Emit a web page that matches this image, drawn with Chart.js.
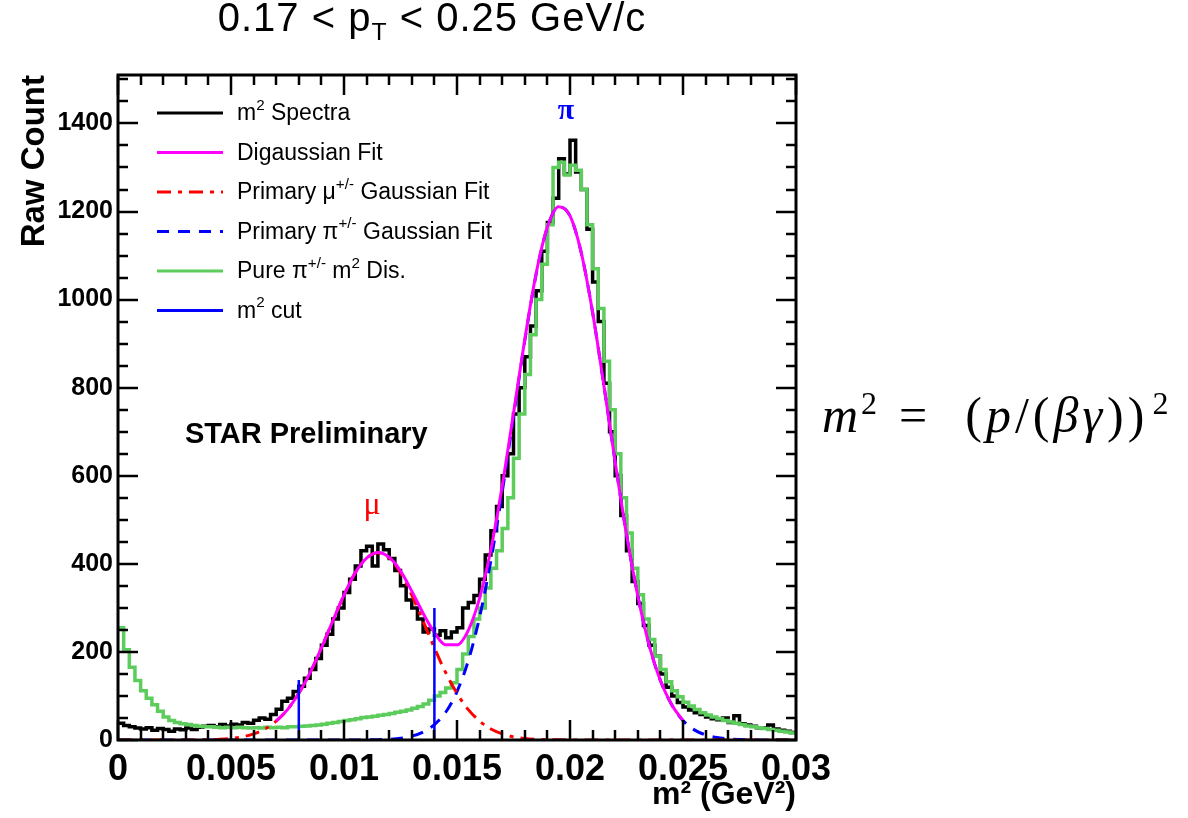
<!DOCTYPE html>
<html>
<head>
<meta charset="utf-8">
<script src="https://cdn.jsdelivr.net/npm/chart.js@4/dist/chart.umd.min.js"></script>
<style>
html,body{margin:0;padding:0;background:#fff;}
#wrap{position:relative;width:1188px;height:818px;}
canvas{display:block;}
</style>
</head>
<body>
<div id="wrap"><canvas id="c" width="1188" height="818"></canvas></div>
<script>
// ---------------- data ----------------
const binWidth = 0.00025; // GeV^2 per histogram bin (0 .. 0.03)

// black: m^2 spectra (raw count per bin)
const spectraCounts = [
  38, 33, 30, 27,   25, 28, 22, 26,   24, 20, 25, 23,   27, 24, 29, 31,
  33, 30, 35, 32,   36, 34, 40, 38,   45, 50, 47, 58,   70, 88, 95, 110,
  122, 140, 160, 185,   215, 240, 275, 300,   335, 365, 395, 430,   440, 395, 445, 432,
  412, 385, 350, 318,   300, 275, 245, 252,   238, 248, 232, 245,   255, 300, 312, 328,
  365, 420, 475, 530,   600, 650, 740, 800,   870, 940, 1020, 1110,   1175, 1230, 1320, 1285,
  1362, 1290, 1250, 1160,   1040, 950, 810, 700,   600, 510, 430, 360,   310, 260, 215, 190,
  150, 120, 100, 85,   75, 68, 62, 58,   52, 48, 46, 50,   40, 55, 37, 34,
  31, 28, 27, 34,   25, 22, 20, 17
];

// green: pure pi+/- m^2 distribution
const purePionCounts = [
  255, 205, 165, 135,   112, 95, 80, 65,   52, 44, 40, 37,   35, 33, 31, 30,
  30, 29, 28, 29,   28, 29, 28, 27,   28, 27, 29, 28,   29, 28, 30, 30,
  31, 32, 33, 34,   36, 38, 40, 42,   44, 46, 48, 51,   52, 54, 56, 58,
  60, 63, 65, 68,   72, 76, 82, 90,   100, 108, 118, 130,   160, 195, 235, 275,
  300, 345, 390, 430,   480, 550, 640, 740,   830, 920, 1000, 1080,   1170, 1300, 1312, 1283,
  1305, 1294, 1250, 1170,   1070, 980, 860, 750,   650, 550, 470, 390,   330, 275, 228, 190,
  160, 132, 112, 98,   86, 77, 69, 62,   57, 52, 48, 44,   41, 38, 35, 32,
  30, 28, 26, 24,   22, 20, 18, 16
];

// fit curves sampled every 0.0005 GeV^2 from 0 to 0.03
const fitStep = 0.0005;
const muonFit = [
  0, 0, 0, 0, 0, 0, 0.1, 0.3, 0.7, 1.6,
  3.5, 7, 14, 25, 43, 69, 106, 153, 209, 270,
  329, 380, 413, 425, 413, 380, 329, 270, 209, 153,
  106, 69, 43, 25, 14, 7, 3.5, 1.6, 0.7, 0.3,
  0.1, 0, 0, 0, 0, 0, 0, 0, 0, 0,
  0, 0, 0, 0, 0, 0, 0, 0, 0, 0, 0
];
const pionFit = [
  0, 0, 0, 0, 0, 0, 0, 0, 0, 0,
  0, 0, 0, 0, 0, 0, 0, 0, 0, 0,
  0, 0.1, 0.3, 0.7, 1.7, 4, 8.7, 18, 35, 63,
  110, 180, 279, 408, 563, 735, 907, 1057, 1164, 1211,
  1190, 1106, 971, 805, 631, 467, 327, 216, 135, 80,
  44, 23, 11.7, 5.5, 2.4, 1, 0.4, 0.1, 0, 0, 0
];
// digaussian fit drawn from 0.007 to 0.025
const digaussStart = 0.007;
const digaussFit = [
  43, 69, 106, 153, 209, 270, 329, 380, 413, 426,
  415, 384, 338, 288, 244, 216, 216, 249, 322, 433,
  577, 742, 910, 1059, 1165, 1211, 1190, 1106, 971, 805,
  631, 467, 327, 216, 135, 80, 44
];

// m^2 cut positions and the height the cut markers are drawn to
const cutPositions = [0.008, 0.014];
const cutHeights = [136, 300];

const xTickLabels = ['0', '0.005', '0.01', '0.015', '0.02', '0.025', '0.03'];
const yTickLabels = ['0', '200', '400', '600', '800', '1000', '1200', '1400'];

const legendLabels = [
  'm^{2} Spectra',
  'Digaussian Fit',
  'Primary \u03bc^{+/-} Gaussian Fit',
  'Primary \u03c0^{+/-} Gaussian Fit',
  'Pure \u03c0^{+/-} m^{2} Dis.',
  'm^{2} cut'
];

// ---------------- build ----------------
function histPoints(counts) {
  const pts = counts.map((v, i) => ({ x: i * binWidth, y: v }));
  pts.push({ x: counts.length * binWidth, y: counts[counts.length - 1] });
  return pts;
}
function fitPoints(vals, start) {
  return vals.map((v, i) => ({ x: start + i * fitStep, y: v }));
}
function cutPoints() {
  const pts = [];
  cutPositions.forEach((c, i) => {
    if (i > 0) pts.push({ x: (cutPositions[i - 1] + c) / 2, y: null });
    pts.push({ x: c, y: 0 });
    pts.push({ x: c, y: cutHeights[i] });
  });
  return pts;
}

const SANS = "'Liberation Sans', Arial, Helvetica, sans-serif";
const SERIF = "'Liberation Serif', 'Times New Roman', serif";

const datasets = [
  { label: legendLabels[0], data: histPoints(spectraCounts), borderColor: '#000000', borderWidth: 3.5, stepped: 'before', order: 6, legendOrder: 0 },
  { label: legendLabels[1], data: fitPoints(digaussFit, digaussStart), borderColor: '#ff00ff', borderWidth: 3, cubicInterpolationMode: 'monotone', order: 2, legendOrder: 1 },
  { label: legendLabels[2], data: fitPoints(muonFit, 0), borderColor: '#ff0000', borderWidth: 3, borderDash: [14, 7, 4, 7], cubicInterpolationMode: 'monotone', order: 3, legendOrder: 2 },
  { label: legendLabels[3], data: fitPoints(pionFit, 0), borderColor: '#0000ff', borderWidth: 3, borderDash: [12, 9], cubicInterpolationMode: 'monotone', order: 4, legendOrder: 3 },
  { label: legendLabels[4], data: histPoints(purePionCounts), borderColor: '#5ccc5c', borderWidth: 3.5, stepped: 'before', order: 5, legendOrder: 4 },
  { label: legendLabels[5], data: cutPoints(), borderColor: '#0000ff', borderWidth: 2.5, order: 1, legendOrder: 5 }
];
datasets.forEach(d => { d.pointRadius = 0; d.fill = false; d.spanGaps = false; });

// draw text with ^{...} superscripts and _{...} subscripts
function drawRich(ctx, str, x, y, size, family, weight, supScale) {
  const re = /(\^\{[^}]*\}|_\{[^}]*\})/;
  const parts = str.split(re).filter(p => p.length);
  const sc = supScale || 0.62;
  let cx = x;
  parts.forEach(p => {
    let txt = p, fs = size, dy = 0;
    if (p.startsWith('^{')) { txt = p.slice(2, -1); fs = size * sc; dy = -size * 0.36; }
    else if (p.startsWith('_{')) { txt = p.slice(2, -1); fs = size * sc; dy = size * 0.22; }
    ctx.font = (weight ? weight + ' ' : '') + fs + 'px ' + family;
    ctx.fillText(txt, cx, y + dy);
    cx += ctx.measureText(txt).width;
  });
  return cx - x;
}

const decorPlugin = {
  id: 'decor',
  afterDatasetsDraw(chart) {
    const { ctx, chartArea: a, scales: { x, y } } = chart;
    ctx.save();
    ctx.strokeStyle = '#000';
    ctx.lineWidth = 2.5;
    ctx.setLineDash([]);
    // x ticks every 0.001, major every 0.005 (top and bottom, inward)
    for (let k = 0; k <= 30; k++) {
      const px = Math.round(x.getPixelForValue(k * 0.001));
      const len = (k % 5 === 0) ? 20 : 10;
      ctx.beginPath();
      ctx.moveTo(px, a.bottom); ctx.lineTo(px, a.bottom - len);
      ctx.moveTo(px, a.top); ctx.lineTo(px, a.top + len);
      ctx.stroke();
    }
    // y ticks every 50, major every 200 (left and right, inward)
    for (let k = 0; k * 50 <= y.max; k++) {
      const py = Math.round(y.getPixelForValue(k * 50));
      const len = (k % 4 === 0) ? 20 : 10;
      ctx.beginPath();
      ctx.moveTo(a.left, py); ctx.lineTo(a.left + len, py);
      ctx.moveTo(a.right, py); ctx.lineTo(a.right - len, py);
      ctx.stroke();
    }
    ctx.lineWidth = 3;
    ctx.strokeRect(a.left, a.top, a.right - a.left, a.bottom - a.top);

    // legend (no frame) in the upper left
    const rowTop = 113, rowGap = 39.5, lineX0 = 157, lineX1 = 223, textX = 237;
    chart.data.datasets.forEach(ds => {
      const yy = rowTop + ds.legendOrder * rowGap;
      ctx.strokeStyle = ds.borderColor;
      ctx.lineWidth = 3;
      ctx.setLineDash(ds.borderDash || []);
      ctx.beginPath(); ctx.moveTo(lineX0, yy); ctx.lineTo(lineX1, yy); ctx.stroke();
      ctx.setLineDash([]);
      ctx.fillStyle = '#000';
      ctx.textBaseline = 'middle';
      ctx.textAlign = 'left';
      drawRich(ctx, ds.label, textX, yy + 1, 23, SANS, '', 0.66);
    });

    // annotations
    ctx.textBaseline = 'middle';
    ctx.textAlign = 'center';
    ctx.fillStyle = '#ff0000';
    ctx.font = '32px ' + SERIF;
    ctx.fillText('\u03bc', x.getPixelForValue(0.01124), y.getPixelForValue(532));
    ctx.fillStyle = '#0000ff';
    ctx.font = 'bold 30px ' + SERIF;
    ctx.fillText('\u03c0', x.getPixelForValue(0.01982), y.getPixelForValue(1428));
    ctx.fillStyle = '#000';
    ctx.textAlign = 'left';
    ctx.textBaseline = 'alphabetic';
    ctx.font = 'bold 29px ' + SANS;
    ctx.fillText('STAR Preliminary', x.getPixelForValue(0.00296), y.getPixelForValue(674));
    ctx.restore();
  },
  afterDraw(chart) {
    const { ctx } = chart;
    ctx.save();
    ctx.fillStyle = '#000';
    ctx.textBaseline = 'alphabetic';
    ctx.textAlign = 'left';
    // header
    const title = '0.17 < p_{T} < 0.25 GeV/c';
    ctx.letterSpacing = '1px';
    ctx.globalAlpha = 0;
    const w = drawRich(ctx, title, 0, -100, 40, SANS, '');
    ctx.globalAlpha = 1;
    drawRich(ctx, title, 432 - w / 2, 31, 40, SANS, '');
    ctx.letterSpacing = '0px';
    // formula on the right: m^2 = (p/(beta gamma))^2
    const base = 432;
    const mainI = 'italic 50px ' + SERIF, mainN = '50px ' + SERIF, sup = '32px ' + SERIF;
    let cx = 822;
    const put = (t, f, dy, gapAfter) => {
      ctx.font = f; ctx.fillText(t, cx, base + dy); cx += ctx.measureText(t).width + (gapAfter || 0);
    };
    put('m', mainI, 0, 3);
    put('2', sup, -18, 22);
    put('=', mainN, 0, 38);
    ctx.letterSpacing = '4px';
    put('(', mainN, 0);
    put('p', mainI, 0);
    put('/', mainN, 0);
    put('(', mainN, 0);
    put('\u03b2\u03b3', mainI, 0, 1);
    put('))', mainN, 0, 4);
    ctx.letterSpacing = '0px';
    put('2', sup, -18);
    ctx.restore();
  }
};

const chart = new Chart(document.getElementById('c'), {
  type: 'line',
  data: { datasets },
  options: {
    responsive: false,
    animation: false,
    events: [],
    layout: { padding: { left: 0, right: 392, top: 75, bottom: 0 } },
    plugins: { legend: { display: false }, tooltip: { enabled: false }, title: { display: false } },
    elements: { line: { tension: 0, borderJoinStyle: 'miter' } },
    scales: {
      x: {
        type: 'linear', min: 0, max: 0.03,
        grid: { display: false, drawTicks: false },
        border: { display: false },
        ticks: {
          stepSize: 0.005, autoSkip: false, maxRotation: 0, padding: 8, color: '#000',
          font: { family: SANS, weight: 'bold', size: 36 },
          callback: (v, i) => xTickLabels[i]
        },
        title: {
          display: true, text: 'm\u00b2 (GeV\u00b2)', align: 'end', color: '#000',
          font: { family: SANS, weight: 'bold', size: 32 }, padding: { top: 0, bottom: 4 }
        },
        afterFit: s => { s.height = 78; }
      },
      y: {
        type: 'linear', min: 0, max: 1510,
        grid: { display: false, drawTicks: false },
        border: { display: false },
        ticks: {
          stepSize: 200, includeBounds: false, padding: 5, color: '#000',
          font: { family: SANS, weight: 'bold', size: 25 },
          callback: (v, i) => yTickLabels[i]
        },
        title: {
          display: true, text: 'Raw Count', align: 'end', color: '#000',
          font: { family: SANS, weight: 'bold', size: 33 }, padding: { top: 15, bottom: 0 }
        },
        afterFit: s => { s.width = 118; }
      }
    }
  },
  plugins: [decorPlugin]
});
</script>
</body>
</html>
